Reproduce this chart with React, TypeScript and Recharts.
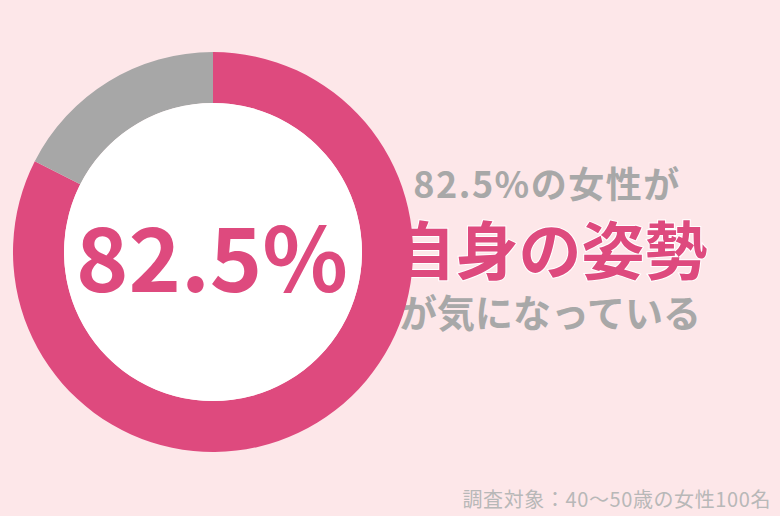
import { PieChart, Pie, Cell, Label } from "recharts"

const segments = ["自身の姿勢が気になっている", "気にならない"]
const shares = [82.5, 17.5]
const sliceColors = ["#de4a7e", "#a7a7a7"]
const headline = "82.5%"
const captionLines = ["82.5%の女性が", "自身の姿勢", "が気になっている"]
const footnote = "調査対象：40〜50歳の女性100名"

const font = "'Noto Sans CJK JP', 'Noto Sans', sans-serif"

export default function App() {
  const ringData = segments.map((name, i) => ({ name, value: shares[i] }))
  const discData = [{ name: "center", value: 1 }]

  return (
    <div style={{ position: "absolute", top: 0, left: 0, width: 780, height: 516, background: "#fde7e9" }}>
      <PieChart width={780} height={516} margin={{ top: 0, right: 0, bottom: 0, left: 0 }}>
        <Pie
          data={ringData}
          dataKey="value"
          cx={213}
          cy={252}
          innerRadius={149}
          outerRadius={200}
          startAngle={90}
          endAngle={-270}
          stroke="none"
          isAnimationActive={false}
        >
          {ringData.map((d, i) => (
            <Cell key={d.name} fill={sliceColors[i]} />
          ))}
        </Pie>
        <Pie
          data={discData}
          dataKey="value"
          cx={213}
          cy={252}
          innerRadius={0}
          outerRadius={149}
          stroke="none"
          fill="#ffffff"
          isAnimationActive={false}
        >
          <Label
            position="center"
            content={() => (
              <text
                x={212}
                y={253}
                textAnchor="middle"
                dominantBaseline="central"
                fill="#de4a7e"
                fontFamily={font}
                fontWeight={700}
                fontSize={89}
              >
                {headline}
              </text>
            )}
          />
        </Pie>
        <text x={547} y={182} textAnchor="middle" dominantBaseline="central" fill="#a8a8a8" fontFamily={font} fontWeight={700} fontSize={36} letterSpacing={1.5}>
          {captionLines[0]}
        </text>
        <text
          x={550}
          y={246}
          textAnchor="middle"
          dominantBaseline="central"
          fill="#de4a7e"
          stroke="#ffffff"
          strokeWidth={2}
          paintOrder="stroke"
          fontFamily={font}
          fontWeight={700}
          fontSize={63}
        >
          {captionLines[1]}
        </text>
        <text x={550} y={310} textAnchor="middle" dominantBaseline="central" fill="#a8a8a8" fontFamily={font} fontWeight={700} fontSize={38}>
          {captionLines[2]}
        </text>
        <text x={771} y={498} textAnchor="end" dominantBaseline="central" fill="#b8b8b8" fontFamily={font} fontSize={20} letterSpacing={0.6}>
          {footnote}
        </text>
      </PieChart>
    </div>
  )
}
